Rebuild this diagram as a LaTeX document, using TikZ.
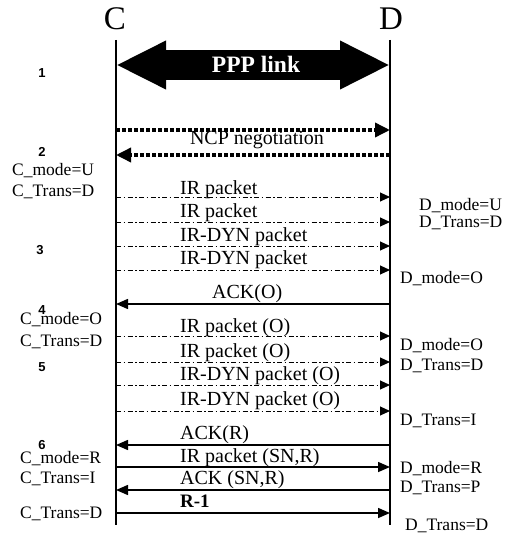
\documentclass[tikz,border=0pt]{standalone}
\usepackage{fontspec}
\setmainfont{Liberation Serif}
\newfontfamily\stepfont{Liberation Sans}
\usepackage{tikz}
\usetikzlibrary{positioning,arrows.meta}

\begin{document}
\begin{tikzpicture}[x=1pt, y=-1pt,
entity/.style={inner sep=0pt, font=\fontsize{33}{36}\selectfont},
lifeline/.style={line width=1.5pt},
stepno/.style={inner sep=0pt, font=\stepfont\bfseries\fontsize{13}{14}\selectfont},
state/.style={anchor=base west, inner sep=0pt, font=\fontsize{17.5}{20}\selectfont},
msg/.style={anchor=base west, inner sep=0pt, font=\fontsize{20}{22}\selectfont},
link/.style={line width=29pt, {Triangle[length=50pt,width=45pt]}-{Triangle[length=50pt,width=45pt]}},
ncp/.style={line width=3.5pt, dash pattern=on 4pt off 2pt, -{Triangle[length=15pt,width=14pt]}},
irmsg/.style={line width=1pt, dash pattern=on 5pt off 2.5pt on 1.5pt off 2.5pt, -{Triangle[length=10pt,width=9pt]}},
solidmsg/.style={line width=1.5pt, -{Triangle[length=12pt,width=10pt]}}
]
\useasboundingbox (0,0) rectangle (507,535);

% the two ends and their lifelines
\node[entity] (C) at (115,19) {C};
\node[entity] (D) at (391,19) {D};
\coordinate (Ctop) at (116,40);
\coordinate (Cbot) at (116,525);
\coordinate (Dtop) at (390,40);
\coordinate (Dbot) at (390,525);
\draw[lifeline] (Ctop) -- (Cbot);
\draw[lifeline] (Dtop) -- (Dbot);

% message levels on both lifelines
\foreach \n/\y in {p/65, n1/130, n2/155, m1/197, m2/222, m3/246, m4/270,
  a1/304, m5/336, m6/362, m7/385, m8/411, a2/445, s1/467, a3/490, r1/513}
{
  \coordinate (c\n) at (116,\y);
  \coordinate (d\n) at (390,\y);
}

% step 1
\draw[link] (cp) -- (dp);
\node[text=white, font=\bfseries\fontsize{23.5}{26}\selectfont] (ppp) at (256,64) {PPP link};

% step 2
\draw[ncp] (cn1) -- (dn1);
\draw[ncp] (dn2) -- (cn2);
\node[font=\fontsize{20}{22}\selectfont, inner sep=0pt] (ncp) at (257,140) {NCP negotiation};

% step 3
\draw[irmsg] (cm1) -- (dm1);
\draw[irmsg] (cm2) -- (dm2);
\draw[irmsg] (cm3) -- (dm3);
\draw[irmsg] (cm4) -- (dm4);
\node[msg] (lm1) at (180,194) {IR packet};
\node[msg] (lm2) at (180,217) {IR packet};
\node[msg] (lm3) at (180,241) {IR-DYN packet};
\node[msg] (lm4) at (180,264) {IR-DYN packet};

% step 4
\draw[solidmsg] (da1) -- (ca1);
\node[msg] (la1) at (212,298) {ACK(O)};

% step 5
\draw[irmsg] (cm5) -- (dm5);
\draw[irmsg] (cm6) -- (dm6);
\draw[irmsg] (cm7) -- (dm7);
\draw[irmsg] (cm8) -- (dm8);
\node[msg] (lm5) at (180,332) {IR packet (O)};
\node[msg] (lm6) at (180,357) {IR packet (O)};
\node[msg] (lm7) at (180,380) {IR-DYN packet (O)};
\node[msg] (lm8) at (180,405) {IR-DYN packet (O)};

% step 6
\draw[solidmsg] (da2) -- (ca2);
\draw[solidmsg] (cs1) -- (ds1);
\draw[solidmsg] (da3) -- (ca3);
\draw[solidmsg] (cr1) -- (dr1);
\node[msg] (la2) at (180,439) {ACK(R)};
\node[msg] (ls1) at (180,462) {IR packet (SN,R)};
\node[msg] (la3) at (180,484) {ACK (SN,R)};
\node[msg, font=\bfseries\fontsize{19}{21}\selectfont] (lr1) at (180,507) {R-1};

% step numbers
\foreach \k/\x/\y in {1/42/73, 2/42/152, 3/40/250, 4/42/310, 5/42/367, 6/42/445}
  \node[stepno] (step\k) at (\x,\y) {\k};

% states of C
\node[state] (cs1) at (12,175) {C\_mode=U};
\node[state] (cs2) at (12,196) {C\_Trans=D};
\node[state] (cs3) at (20,324) {C\_mode=O};
\node[state] (cs4) at (20,346) {C\_Trans=D};
\node[state] (cs5) at (20,463) {C\_mode=R};
\node[state] (cs6) at (20,483) {C\_Trans=I};
\node[state] (cs7) at (20,518) {C\_Trans=D};

% states of D
\node[state] (ds1) at (419,210) {D\_mode=U};
\node[state] (ds2) at (419,227) {D\_Trans=D};
\node[state] (ds3) at (400,283) {D\_mode=O};
\node[state] (ds4) at (400,350) {D\_mode=O};
\node[state] (ds5) at (400,370) {D\_Trans=D};
\node[state] (ds6) at (400,425) {D\_Trans=I};
\node[state] (ds7) at (400,473) {D\_mode=R};
\node[state] (ds8) at (400,492) {D\_Trans=P};
\node[state] (ds9) at (405,530) {D\_Trans=D};
\end{tikzpicture}
\end{document}
